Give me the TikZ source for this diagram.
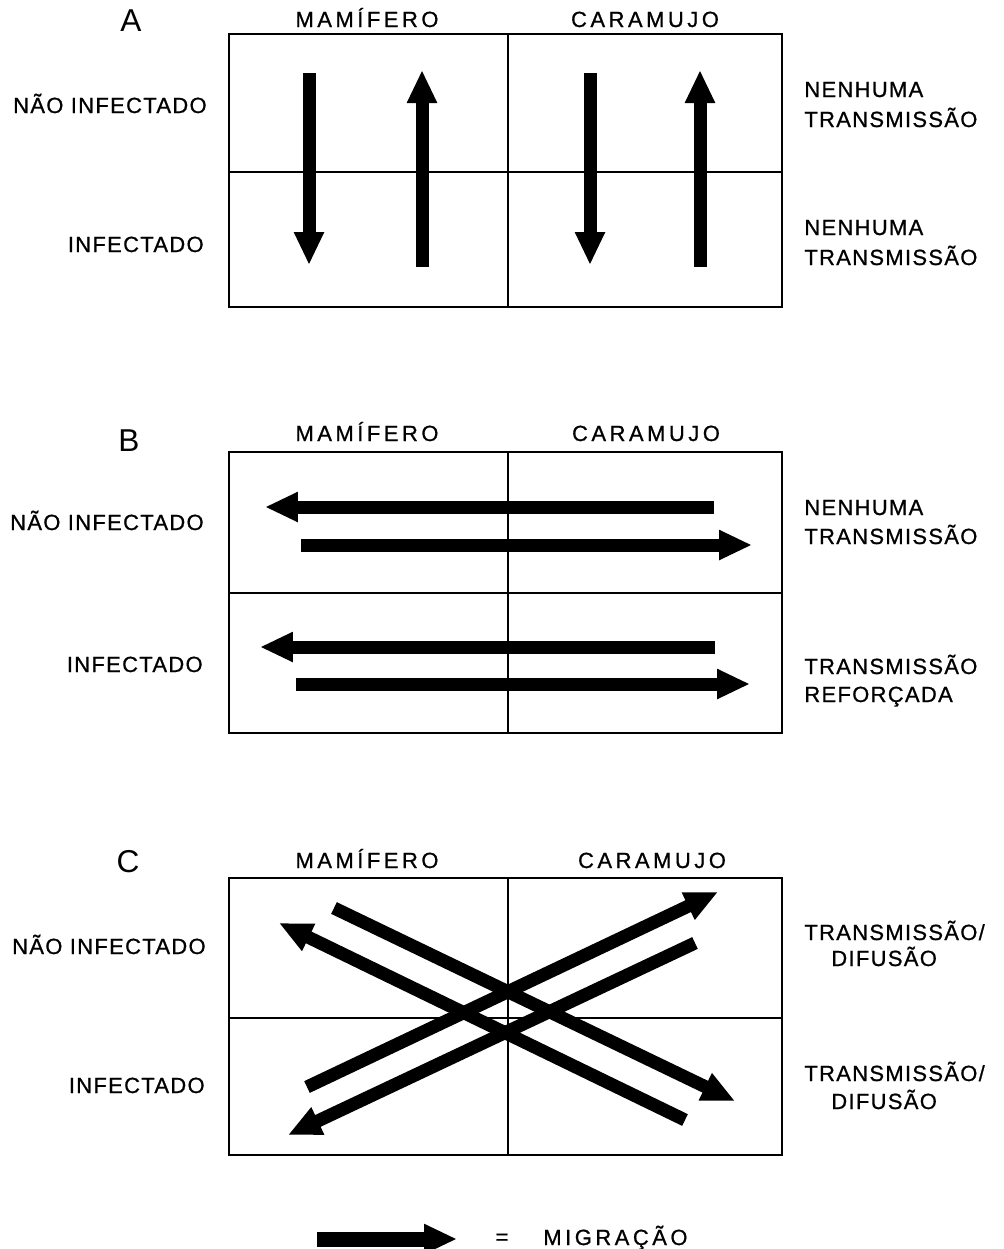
\documentclass[tikz,border=0pt]{standalone}
\usepackage{fontspec}
\setmainfont{Liberation Sans}
\newfontfamily\sidefont[LetterSpace=6,FakeBold=0.8]{Liberation Sans}
\newfontfamily\headfont[LetterSpace=16,FakeBold=0.8]{Liberation Sans}
\usetikzlibrary{arrows.meta}

\begin{document}
\begin{tikzpicture}[x=0.02cm,y=-0.02cm,
  grid/.style={line width=1.1pt},
  migr/.style={line width=0.26cm,-{Triangle[width=0.56cm,length=0.66cm]}},
  side/.style={inner sep=0pt,font=\sidefont\fontsize{12.5}{15}\selectfont},
  head/.style={inner sep=0pt,anchor=base,font=\headfont\fontsize{12.5}{15}\selectfont},
  panel/.style={inner sep=0pt,anchor=base,font=\fontsize{18}{20}\selectfont}]
\useasboundingbox (0,0) rectangle (1004,1249);

% ---------- panel A ----------
\node[panel] (la) at (131,31) {A};
\node[head] (ma) at (367,27) {MAMÍFERO};
\node[head] (ca) at (645,27) {CARAMUJO};
\draw[grid] (229,34) rectangle (782,307);
\draw[grid] (508,34) -- (508,307);
\draw[grid] (229,172) -- (782,172);
\node[side,anchor=base east] (ua) at (207,113) {NÃO INFECTADO};
\node[side,anchor=base east] (ia) at (204,252) {INFECTADO};
\node[side,anchor=base west] (ra1) at (804,97) {NENHUMA};
\node[side,anchor=base west] (ra2) at (804,127) {TRANSMISSÃO};
\node[side,anchor=base west] (ra3) at (804,235) {NENHUMA};
\node[side,anchor=base west] (ra4) at (804,265) {TRANSMISSÃO};
\coordinate (a1s) at (309,73);  \coordinate (a1e) at (309,265);
\coordinate (a2s) at (422,267); \coordinate (a2e) at (422,70);
\coordinate (a3s) at (590,73);  \coordinate (a3e) at (590,265);
\coordinate (a4s) at (700,267); \coordinate (a4e) at (700,70);
\draw[migr] (a1s) -- (a1e);
\draw[migr] (a2s) -- (a2e);
\draw[migr] (a3s) -- (a3e);
\draw[migr] (a4s) -- (a4e);

% ---------- panel B ----------
\node[panel] (lb) at (129,451) {B};
\node[head] (mb) at (367,441) {MAMÍFERO};
\node[head] (cb) at (646,441) {CARAMUJO};
\draw[grid] (229,452) rectangle (782,733);
\draw[grid] (508,452) -- (508,733);
\draw[grid] (229,593) -- (782,593);
\node[side,anchor=base east] (ub) at (204,530) {NÃO INFECTADO};
\node[side,anchor=base east] (ib) at (203,672) {INFECTADO};
\node[side,anchor=base west] (rb1) at (804,515) {NENHUMA};
\node[side,anchor=base west] (rb2) at (804,544) {TRANSMISSÃO};
\node[side,anchor=base west] (rb3) at (804,674) {TRANSMISSÃO};
\node[side,anchor=base west] (rb4) at (804,702) {REFORÇADA};
\coordinate (b1s) at (714,507); \coordinate (b1e) at (265,507);
\coordinate (b2s) at (301,545); \coordinate (b2e) at (752,545);
\coordinate (b3s) at (715,647); \coordinate (b3e) at (260,647);
\coordinate (b4s) at (296,684); \coordinate (b4e) at (750,684);
\draw[migr] (b1s) -- (b1e);
\draw[migr] (b2s) -- (b2e);
\draw[migr] (b3s) -- (b3e);
\draw[migr] (b4s) -- (b4e);

% ---------- panel C ----------
\node[panel] (lc) at (128,872) {C};
\node[head] (mc) at (367,868) {MAMÍFERO};
\node[head] (cc) at (652,868) {CARAMUJO};
\draw[grid] (229,878) rectangle (782,1155);
\draw[grid] (508,878) -- (508,1155);
\draw[grid] (229,1018) -- (782,1018);
\node[side,anchor=base east] (uc) at (206,954) {NÃO INFECTADO};
\node[side,anchor=base east] (ic) at (205,1093) {INFECTADO};
\node[side,anchor=base west] (rc1) at (804,940) {TRANSMISSÃO/};
\node[side,anchor=base west] (rc2) at (831,966) {DIFUSÃO};
\node[side,anchor=base west] (rc3) at (804,1081) {TRANSMISSÃO/};
\node[side,anchor=base west] (rc4) at (831,1109) {DIFUSÃO};
\coordinate (c1s) at (334,908); \coordinate (c1e) at (735,1101);
\coordinate (c2s) at (685,1120); \coordinate (c2e) at (279,923);
\coordinate (c3s) at (307,1087); \coordinate (c3e) at (718,892);
\coordinate (c4s) at (695,943); \coordinate (c4e) at (288,1135);
\draw[migr] (c1s) -- (c1e);
\draw[migr] (c2s) -- (c2e);
\draw[migr] (c3s) -- (c3e);
\draw[migr] (c4s) -- (c4e);

% ---------- key ----------
\coordinate (ks) at (317,1239); \coordinate (ke) at (457,1239);
\draw[migr,line width=0.30cm] (ks) -- (ke);
\node[side,anchor=center] (eq) at (502,1239) {=};
\node[head,anchor=base west] (kt) at (543,1245) {MIGRAÇÃO};
\end{tikzpicture}
\end{document}
